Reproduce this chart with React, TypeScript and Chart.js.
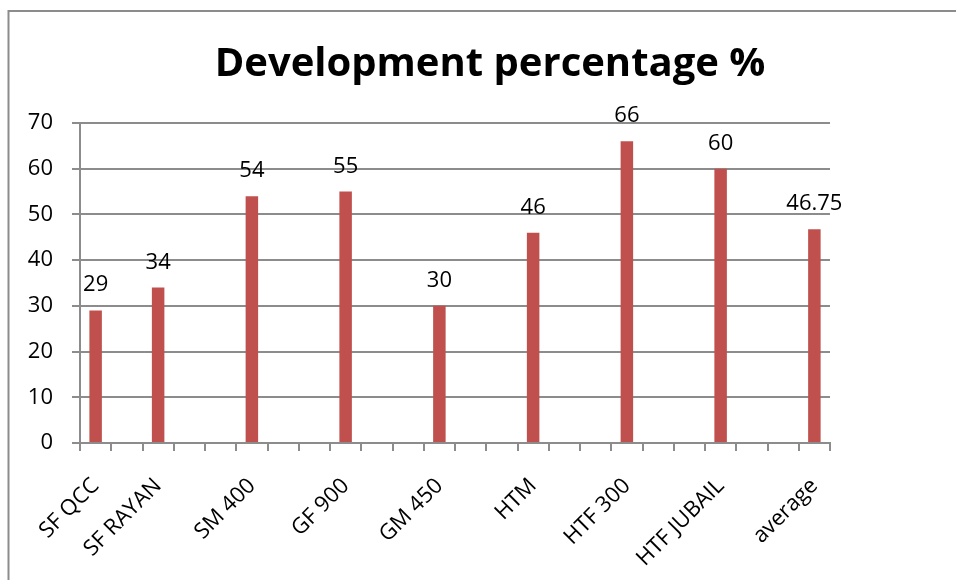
import React, { useEffect, useRef } from 'react';
import { Chart, registerables } from 'chart.js';

Chart.register(...registerables);

const TITLE = 'Development percentage %';
const categories = [
  'SF QCC', '', 'SF RAYAN', '', '', 'SM 400', '', '', 'GF 900', '', '', 'GM 450',
  '', '', 'HTM', '', '', 'HTF 300', '', '', 'HTF JUBAIL', '', '', 'average',
];
const values: (number | null)[] = [
  29, null, 34, null, null, 54, null, null, 55, null, null, 30,
  null, null, 46, null, null, 66, null, null, 60, null, null, 46.75,
];
const yMin = 0;
const yMax = 70;
const yStep = 10;

const FONT = "'Open Sans', 'Noto Sans', sans-serif";
const GRID = '#8c8c8c';
const BAR = '#C0504D';

const framePlugin = {
  id: 'frame',
  beforeDraw(chart: any) {
    const ctx = chart.ctx;
    ctx.save();
    ctx.fillStyle = '#ffffff';
    ctx.fillRect(0, 0, chart.width, chart.height);
    ctx.strokeStyle = GRID;
    ctx.lineWidth = 2;
    ctx.beginPath();
    ctx.moveTo(8, 11);
    ctx.lineTo(chart.width, 11);
    ctx.moveTo(8.5, 10);
    ctx.lineTo(8.5, chart.height);
    ctx.stroke();
    ctx.restore();
  },
  afterDraw(chart: any) {
    const ctx = chart.ctx;
    ctx.save();
    ctx.fillStyle = '#000';
    ctx.font = `bold 40px ${FONT}`;
    ctx.textAlign = 'center';
    ctx.textBaseline = 'alphabetic';
    ctx.fillText(TITLE, 490, 76);
    ctx.restore();
  },
};

const labelPlugin = {
  id: 'barLabels',
  afterDatasetsDraw(chart: any) {
    const ctx = chart.ctx;
    const meta = chart.getDatasetMeta(0);
    const data = chart.data.datasets[0].data;
    ctx.save();
    ctx.fillStyle = '#000';
    ctx.font = `22px ${FONT}`;
    ctx.textAlign = 'center';
    ctx.textBaseline = 'alphabetic';
    meta.data.forEach((el: any, i: number) => {
      const v = data[i];
      if (v === null || v === undefined) return;
      ctx.fillText(String(v), el.x, el.y - 19);
    });
    ctx.restore();
  },
};

export default function App() {
  const ref = useRef<HTMLCanvasElement>(null);
  useEffect(() => {
    if (!ref.current) return;
    const chart = new Chart(ref.current, {
      type: 'bar',
      data: {
        labels: categories,
        datasets: [
          {
            data: values,
            backgroundColor: BAR,
            borderWidth: 0,
            barPercentage: 0.4,
            categoryPercentage: 1,
          },
        ],
      },
      options: {
        animation: false,
        responsive: false,
        layout: { padding: { top: 123, right: 126, left: 0, bottom: 0 } },
        plugins: {
          legend: { display: false },
          title: { display: false },
          tooltip: { enabled: false },
        },
        scales: {
          x: {
            afterFit: (s: any) => {
              s.height = 137;
            },
            grid: {
              offset: true,
              drawOnChartArea: false,
              drawTicks: true,
              tickLength: 8,
              color: GRID,
              lineWidth: 2,
            },
            border: { display: true, color: GRID, width: 2 },
            ticks: {
              autoSkip: false,
              maxRotation: 45,
              minRotation: 45,
              padding: 22,
              color: '#000',
              font: { family: FONT, size: 22 },
            },
          },
          y: {
            min: yMin,
            max: yMax,
            afterFit: (s: any) => {
              s.width = 80;
            },
            grid: {
              drawTicks: true,
              tickLength: 8,
              color: GRID,
              lineWidth: 2,
            },
            border: { display: true, color: GRID, width: 2 },
            ticks: {
              stepSize: yStep,
              padding: 19,
              color: '#000',
              font: { family: FONT, size: 22 },
            },
          },
        },
      },
      plugins: [framePlugin, labelPlugin],
    });
    return () => chart.destroy();
  }, []);
  return (
    <div style={{ position: 'fixed', left: 0, top: 0, width: 956, height: 580, background: '#fff' }}>
      <canvas ref={ref} width={956} height={580} />
    </div>
  );
}
